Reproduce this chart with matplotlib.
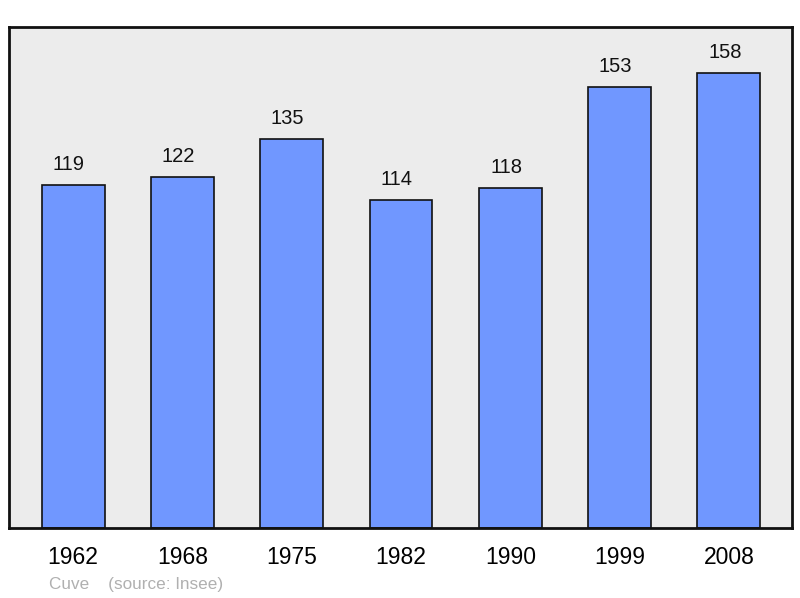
import matplotlib
matplotlib.use("Agg")
import matplotlib.pyplot as plt

years = ["1962", "1968", "1975", "1982", "1990", "1999", "2008"]
population = [119, 122, 135, 114, 118, 153, 158]
caption = "Cuve    (source: Insee)"

plt.rcParams['font.family'] = ['Liberation Sans', 'DejaVu Sans']

fig = plt.figure(figsize=(8.0, 5.98), dpi=100)
ax = fig.add_axes([9/800, 1 - 528/598, 783/800, 501/598])
ax.set_facecolor('#ececec')

x = list(range(len(years)))
bars = ax.bar(x, population, width=0.576, color='#7097ff', edgecolor='#111111', linewidth=1.2, zorder=2)
for xi, v in zip(x, population):
    ax.annotate(str(v), (xi, v), xytext=(-3, 8), textcoords='offset points',
                ha='center', va='bottom', fontsize=14.5, color='#111111')

ax.set_xlim(-0.586, 6.577)
ax.set_ylim(0, 174)
ax.set_xticks(x)
ax.set_xticklabels(years, fontsize=16.5)
ax.tick_params(axis='x', length=0, pad=13)
ax.set_yticks([])
for s in ax.spines.values():
    s.set_linewidth(2)
    s.set_color('#111111')

fig.text(49/800, 1 - 584/598, caption, fontsize=12.3, color='#b0b0b0', ha='left', va='center')

fig.savefig('out.png', dpi=100)
